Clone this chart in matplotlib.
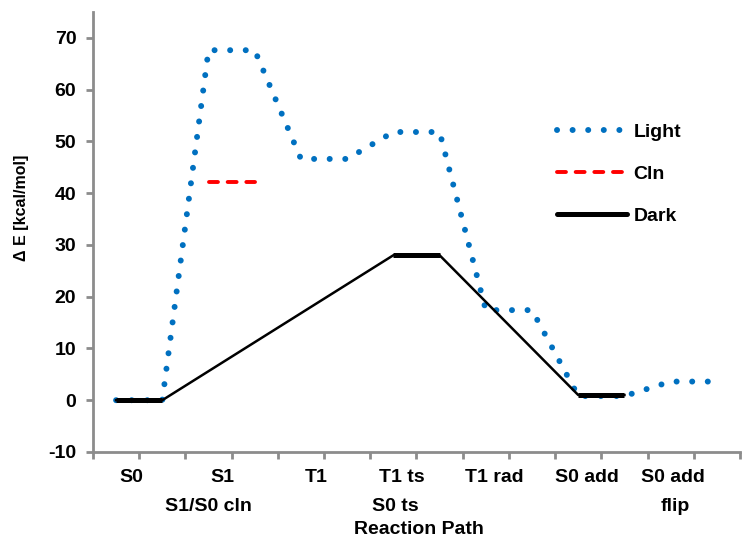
import numpy as np
import matplotlib
matplotlib.use('Agg')
import matplotlib.pyplot as plt
from matplotlib.lines import Line2D

#%% Data (two category slots per state: start and end of each plateau)

states = ['S0', 'S1', 'T1', 'T1 ts', 'T1 rad', 'S0 add', 'S0 add']
states_2nd = ['', 'S1/S0 cln', '', 'S0 ts', '', '', 'flip']
light = [0.0, 0.0, 67.6, 67.6, 46.6, 46.6, 51.8, 51.8, 17.4, 17.4, 0.8, 0.8, 3.6, 3.6]
cln = [np.nan, np.nan, 42.2, 42.2] + [np.nan] * 10
dark = [0.0, 0.0, np.nan, np.nan, np.nan, np.nan, 28.0, 28.0, np.nan, np.nan, 1.0, 1.0, np.nan, np.nan]
yticks = np.arange(-10, 71, 10)

#%% Styling

plt.rcParams['font.family'] = ['Liberation Sans', 'DejaVu Sans']
plt.rcParams['font.weight'] = 'bold'
blue = '#0070C0'
grey = '#8C8C8C'
light_ls = (0, (0.01, 2.6))
cln_ls = (0, (2.3, 2.5))

fig = plt.figure(figsize=(7.42, 5.38), dpi=100)
ax = fig.add_axes([0.1253, 0.1599, 0.872, 0.818])

x = np.arange(len(light))
light = np.array(light)
cln = np.array(cln)
dark = np.array(dark)

# Light: dotted, round dots
ax.plot(x, light, color=blue, lw=4.3, linestyle=light_ls,
        dash_capstyle='round', zorder=2)

# Cln: red dashes
ax.plot(x, cln, color='red', lw=2.8, linestyle=cln_ls,
        dash_capstyle='round', zorder=3)

# Dark: thin connectors across the gaps, thick plateaus
ok = ~np.isnan(dark)
ax.plot(x[ok], dark[ok], color='black', lw=1.8, zorder=4)
for i in range(0, len(dark), 2):
    if not np.isnan(dark[i]):
        ax.plot(x[i:i + 2], dark[i:i + 2], color='black', lw=3.6,
                solid_capstyle='butt', zorder=5)

# Axes
ax.set_xlim(-0.5, 13.5)
ax.set_ylim(-10, 75)
ax.spines['top'].set_visible(False)
ax.spines['right'].set_visible(False)
for s in ['left', 'bottom']:
    ax.spines[s].set_color(grey)
    ax.spines[s].set_linewidth(2.0)
ax.spines['bottom'].set_position(('data', -10))

ax.set_yticks(yticks)
ax.set_yticklabels([str(v) for v in yticks], fontsize=14, fontweight='bold')
ax.tick_params(axis='y', length=5, width=2, color=grey, pad=7)

ax.set_xticks(np.arange(-0.5, 13.6, 1.0), minor=True)
ax.tick_params(axis='x', which='minor', length=5, width=2, color=grey)

label_pos = [0.32, 2.29, 4.33, 6.19, 8.18, 10.19, 12.05]
label_pos2 = [0.32, 1.99, 4.33, 6.04, 8.18, 10.19, 12.1]
ax.set_xticks(label_pos)
ax.set_xticklabels(states, fontsize=14, fontweight='bold')
ax.tick_params(axis='x', which='major', length=0, pad=12)
for p, t in zip(label_pos2, states_2nd):
    if t:
        ax.text(p, -0.125, t, transform=ax.get_xaxis_transform(),
                ha='center', va='center', fontsize=14, fontweight='bold')

fig.text(419 / 742, 9 / 538, 'Reaction Path', ha='center', va='center',
         fontsize=14, fontweight='bold')
fig.text(22 / 742, 1 - 208 / 538, 'Δ E [kcal/mol]', rotation=90,
         ha='center', va='center', fontsize=11.5, fontweight='bold')

# Legend
handles = [
    Line2D([], [], color=blue, lw=4.3, linestyle=light_ls, dash_capstyle='round'),
    Line2D([], [], color='red', lw=2.8, linestyle=cln_ls, dash_capstyle='round'),
    Line2D([], [], color='black', lw=3.6, solid_capstyle='round'),
]
ax.legend(handles, ['Light', 'Cln', 'Dark'], loc='center left',
          bbox_to_anchor=(0.717, 0.632), frameon=False,
          handlelength=3.6, handletextpad=0.35, labelspacing=1.25,
          borderpad=0, borderaxespad=0,
          prop={'weight': 'bold', 'size': 14})

fig.savefig('out.png', dpi=100)
